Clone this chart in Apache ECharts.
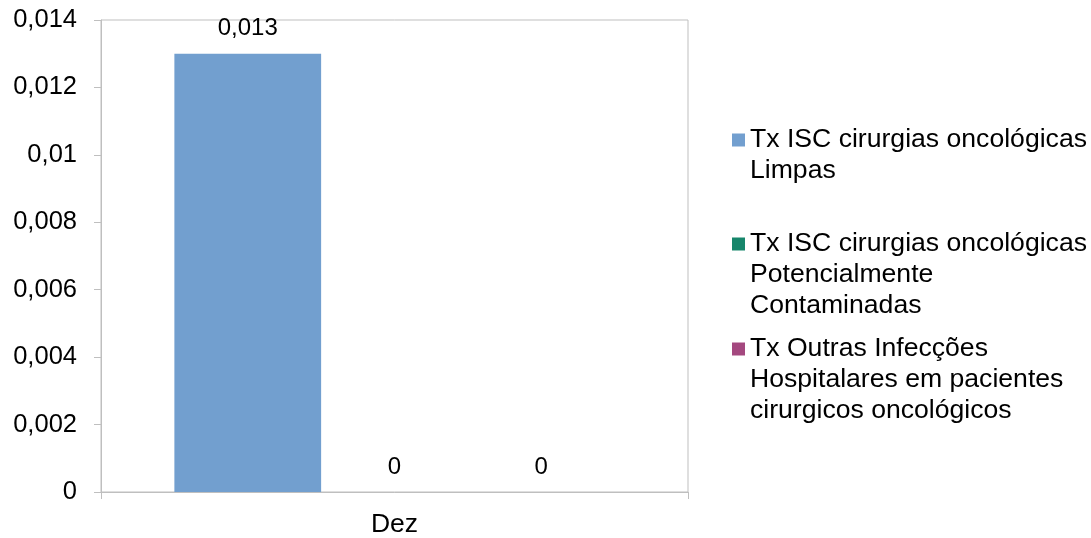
<!DOCTYPE html>
<html>
<head>
<meta charset="utf-8">
<script src="https://cdn.jsdelivr.net/npm/echarts@6/dist/echarts.min.js"></script>
<style>
html,body{margin:0;padding:0;background:#fff;}
#chart{width:1091px;height:538px;}
</style>
</head>
<body>
<div id="chart"></div>
<script>
const categories = ['Dez'];
const seriesNames = [
  'Tx ISC cirurgias oncológicas Limpas',
  'Tx ISC cirurgias oncológicas Potencialmente Contaminadas',
  'Tx Outras Infecções Hospitalares em pacientes cirurgicos oncológicos'
];
const legendLines = [
  ['Tx ISC cirurgias oncológicas', 'Limpas'],
  ['Tx ISC cirurgias oncológicas', 'Potencialmente', 'Contaminadas'],
  ['Tx Outras Infecções', 'Hospitalares em pacientes', 'cirurgicos oncológicos']
];
const valuesLimpas = [0.013];
const valuesPotContaminadas = [0];
const valuesOutras = [0];
const colors = ['#729FCF', '#17866B', '#A4487F'];

const FONT = "'Liberation Sans', Arial, sans-serif";
const fmt = v => String(Number(Number(v).toFixed(4))).replace('.', ',');

const seriesValues = [valuesLimpas, valuesPotContaminadas, valuesOutras];
const legendTops = [93.5, 166.5, 271.5];

const chart = echarts.init(document.getElementById('chart'), null, {renderer: 'canvas'});
chart.setOption({
  animation: false,
  textStyle: {fontFamily: FONT},
  grid: {left: 101, right: 403, top: 20, bottom: 45, show: true, borderColor: '#BFBFBF', borderWidth: 1, backgroundColor: 'transparent'},
  legend: seriesNames.map((name, i) => ({
    data: [name],
    orient: 'vertical',
    left: 732,
    top: legendTops[i],
    padding: 0,
    itemWidth: 13,
    itemHeight: 13,
    icon: 'rect',
    selectedMode: false,
    textStyle: {fontFamily: FONT, fontSize: 26.6, color: '#000', lineHeight: 31},
    formatter: n => {
      const lines = legendLines[seriesNames.indexOf(n)];
      return '\n'.repeat(lines.length - 1) + lines.join('\n');
    }
  })),
  xAxis: {
    type: 'category',
    data: categories,
    axisLine: {lineStyle: {color: '#BFBFBF', width: 1}},
    axisTick: {show: true, length: 7, lineStyle: {color: '#BFBFBF'}},
    axisLabel: {fontFamily: FONT, fontSize: 26.5, color: '#000', margin: 19}
  },
  yAxis: {
    type: 'value',
    min: 0,
    max: 0.014,
    interval: 0.002,
    axisLine: {show: true, lineStyle: {color: '#BFBFBF', width: 1}},
    axisTick: {show: true, length: 7, lineStyle: {color: '#BFBFBF'}},
    splitLine: {show: false},
    axisLabel: {fontFamily: FONT, fontSize: 25.5, color: '#000', margin: 24, formatter: fmt}
  },
  series: seriesNames.map((name, i) => ({
    type: 'bar',
    name: name,
    data: seriesValues[i],
    itemStyle: {color: colors[i]},
    barGap: '0%',
    barCategoryGap: '25%',
    label: {show: true, position: 'top', distance: 13, fontFamily: FONT, fontSize: 24, color: '#000', formatter: p => fmt(p.value)}
  }))
});
</script>
</body>
</html>
